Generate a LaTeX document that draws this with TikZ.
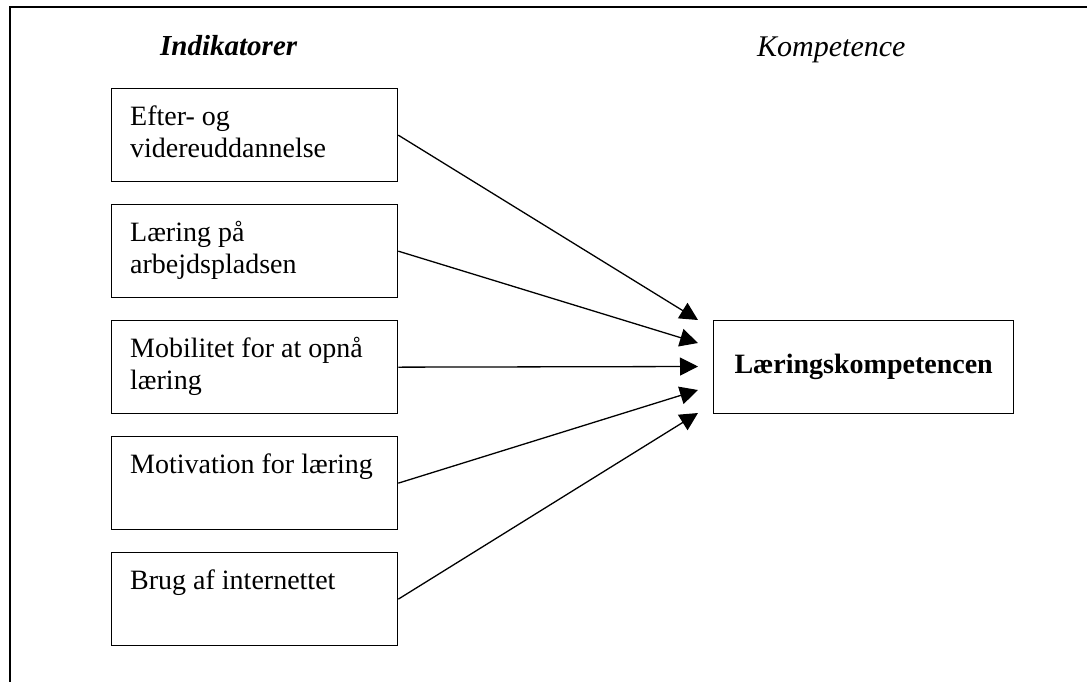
\documentclass[tikz,border=0pt]{standalone}
\usepackage{fontspec}
\setmainfont{Liberation Serif}
\usetikzlibrary{arrows.meta}
\begin{document}
\begin{tikzpicture}[x=1pt,y=-1pt,
  box/.style={draw, line width=1.3pt, minimum width=286pt, minimum height=93pt, anchor=north west, inner sep=0pt},
  boxtext/.style={anchor=north west, align=left, inner sep=0pt, font=\fontsize{28}{32.2}\selectfont},
  head/.style={anchor=base west, inner sep=0pt},
  conn/.style={line width=1.3pt, -{Triangle[length=18pt,width=18pt]}}]
\useasboundingbox (0,0) rectangle (1087,681);
\draw[line width=1.5pt] (10,690) -- (10,7) -- (1095,7);
\node[head, font=\fontsize{29}{33}\selectfont\bfseries\itshape] (hi) at (160,55) {Indikatorer};
\node[head, font=\fontsize{30}{34}\selectfont\itshape] (hk) at (757,56) {Kompetence};
% indicator boxes
\node[box] (b1) at (111,88) {};
\node[box] (b2) at (111,204) {};
\node[box] (b3) at (111,320) {};
\node[box] (b4) at (111,436) {};
\node[box] (b5) at (111,552) {};
\node[boxtext] (t1x) at (130,105) {\rule{0pt}{20pt}Efter- og\\videreuddannelse};
\node[boxtext] (t2x) at (130,221) {\rule{0pt}{20pt}Læring på\\arbejdspladsen};
\node[boxtext] (t3x) at (130,337) {\rule{0pt}{20pt}Mobilitet for at opnå\\læring};
\node[boxtext] (t4x) at (130,453) {\rule{0pt}{20pt}Motivation for læring};
\node[boxtext] (t5x) at (130,569) {\rule{0pt}{20pt}Brug af internettet};
% target
\node[box, minimum width=300pt, font=\fontsize{28}{32}\selectfont\bfseries] (L) at (713,320) {Læringskompetencen};
\coordinate (e1) at (698,320);
\coordinate (e2) at (698,343);
\coordinate (e3) at (698,366.5);
\coordinate (e4) at (698,390);
\coordinate (e5) at (698,413);
\draw[conn] (b1.east) -- (e1);
\draw[conn] (b2.east) -- (e2);
\draw[conn] (b3.east) -- (e3);
\draw[conn] (b4.east) -- (e4);
\draw[conn] (b5.east) -- (e5);
\end{tikzpicture}
\end{document}
